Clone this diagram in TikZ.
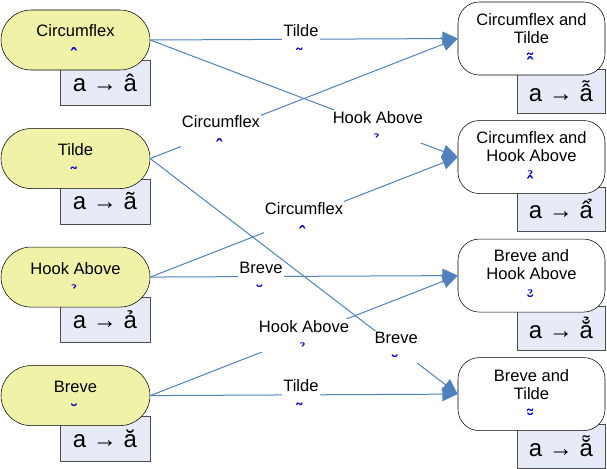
\documentclass[tikz,border=0pt]{standalone}
\usepackage{fontspec}
\setmainfont{Liberation Sans}
\newfontfamily\markfont{DejaVu Sans}
\usetikzlibrary{positioning}
\usetikzlibrary{arrows.meta}
\usetikzlibrary{shapes}
\definecolor{paleyellow}{RGB}{240,242,168}
\definecolor{lavendermist}{RGB}{230,235,247}
\definecolor{steelblue}{RGB}{79,129,189}
\definecolor{markblue}{RGB}{0,0,205}
\pgfdeclarelayer{background}
\pgfsetlayers{background,main}
\newcommand{\mk}[1]{\raisebox{-6pt}[\height][0pt]{\markfont\bfseries\color{markblue}\fontsize{14}{12}\selectfont #1}}
\tikzset {
        srcnode/.style={align=center,inner sep=0pt, rounded rectangle, draw,fill=paleyellow,minimum width=111.75pt,minimum height=45pt,font=\fontsize{12.4}{13.5}\selectfont},
        dstnode/.style={align=center,inner sep=0pt, rectangle, rounded corners=16pt, draw,fill=white,minimum width=110.25pt,minimum height=54.75pt,font=\fontsize{12.4}{13.5}\selectfont},
        valbox/.style={rectangle, draw=black!70,fill=lavendermist,inner sep=0pt,font=\fontsize{18}{18}\selectfont},
        conn/.style={draw=steelblue,line width=0.75pt,-{Triangle[length=11.5pt,width=10.5pt]}},
        edgelabel/.style={fill=white,align=center,inner sep=1pt,font=\fontsize{12.4}{13.5}\selectfont}
}
\begin{document}
\begin{tikzpicture}[x=0.75pt,y=-0.75pt]
            \useasboundingbox (0,0) rectangle (607,468);
            % accents on their own
            \node[srcnode] (Circumflex) at (75.5,40) {Circumflex\\\mk{^^^^00a0^^^^0302}};
            \node[srcnode, below=43.5pt of Circumflex] (Tilde) {Tilde\\\mk{^^^^00a0^^^^0303}};
            \node[srcnode, below=43.5pt of Tilde] (HookAbove) {Hook Above\\\mk{^^^^00a0^^^^0309}};
            \node[srcnode, below=43.5pt of HookAbove] (Breve) {Breve\\\mk{^^^^00a0^^^^0306}};
            % accents stacked
            \node[dstnode] (CircumflexTilde) at (531.5,38.5) {Circumflex and\\Tilde\\\mk{^^^^00a0^^^^0302^^^^0303}};
            \node[dstnode, below=33.75pt of CircumflexTilde] (CircumflexHookAbove) {Circumflex and\\Hook Above\\\mk{^^^^00a0^^^^0302^^^^0309}};
            \node[dstnode, below=33.75pt of CircumflexHookAbove] (BreveHookAbove) {Breve and\\Hook Above\\\mk{^^^^00a0^^^^0306^^^^0309}};
            \node[dstnode, below=33.75pt of BreveHookAbove] (BreveTilde) {Breve and\\Tilde\\\mk{^^^^00a0^^^^0306^^^^0303}};

            \begin{pgfonlayer}{background}
            \node[valbox, minimum width=67.5pt, minimum height=33.75pt, anchor=north east] (CircumflexValue) at ([yshift=-15pt]Circumflex.east) {a → â};
            \node[valbox, minimum width=67.5pt, minimum height=33.75pt, anchor=north east] (TildeValue) at ([yshift=-15pt]Tilde.east) {a → ã};
            \node[valbox, minimum width=67.5pt, minimum height=33.75pt, anchor=north east] (HookAboveValue) at ([yshift=-15pt]HookAbove.east) {a → ả};
            \node[valbox, minimum width=67.5pt, minimum height=33.75pt, anchor=north east] (BreveValue) at ([yshift=-15pt]Breve.east) {a → ă};
            \node[valbox, minimum width=66pt, minimum height=33pt, anchor=north east] (CircumflexTildeValue) at ([yshift=-22.5pt]CircumflexTilde.east) {a → ẫ};
            \node[valbox, minimum width=66pt, minimum height=33pt, anchor=north east] (CircumflexHookAboveValue) at ([yshift=-22.5pt]CircumflexHookAbove.east) {a → ẩ};
            \node[valbox, minimum width=66pt, minimum height=33pt, anchor=north east] (BreveHookAboveValue) at ([yshift=-22.5pt]BreveHookAbove.east) {a → ẳ};
            \node[valbox, minimum width=66pt, minimum height=33pt, anchor=north east] (BreveTildeValue) at ([yshift=-22.5pt]BreveTilde.east) {a → ẵ};
            \end{pgfonlayer}

            \draw[conn] (Circumflex.east) -- node[edgelabel, pos=0.49] {Tilde\\\mk{^^^^00a0^^^^0303}} (CircumflexTilde.west);
            \draw[conn] (Circumflex.east) -- node[edgelabel, pos=0.74] {Hook Above\\\mk{^^^^00a0^^^^0309}} (CircumflexHookAbove.west);
            \draw[conn] (Tilde.east) -- node[edgelabel, pos=0.23] {Circumflex\\\mk{^^^^00a0^^^^0302}} (CircumflexTilde.west);
            \draw[conn] (Tilde.east) -- node[edgelabel, pos=0.8] {Breve\\\mk{^^^^00a0^^^^0306}} (BreveTilde.west);
            \draw[conn] (HookAbove.east) -- node[edgelabel, pos=0.5] {Circumflex\\\mk{^^^^00a0^^^^0302}} (CircumflexHookAbove.west);
            \draw[conn] (HookAbove.east) -- node[edgelabel, pos=0.36] {Breve\\\mk{^^^^00a0^^^^0306}} (BreveHookAbove.west);
            \draw[conn] (Breve.east) -- node[edgelabel, pos=0.5] {Hook Above\\\mk{^^^^00a0^^^^0309}} (BreveHookAbove.west);
            \draw[conn] (Breve.east) -- node[edgelabel, pos=0.49] {Tilde\\\mk{^^^^00a0^^^^0303}} (BreveTilde.west);
        \end{tikzpicture}
\end{document}
